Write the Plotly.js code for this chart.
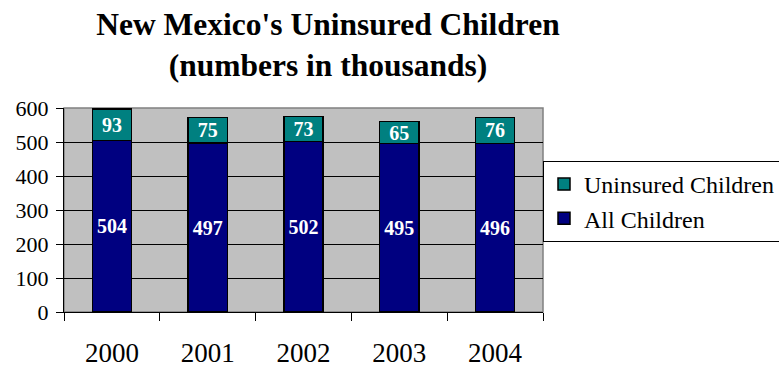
<!DOCTYPE html>
<html>
<head>
<meta charset="utf-8">
<script src="https://cdn.plot.ly/plotly-3.0.1.min.js"></script>
<style>html,body{margin:0;padding:0;background:#fff;}#chart{width:779px;height:369px;}</style>
</head>
<body>
<div id="chart"></div>
<script>
var years = ['2000', '2001', '2002', '2003', '2004'];
var allChildren = [504, 497, 502, 495, 496];
var uninsuredChildren = [93, 75, 73, 65, 76];
var yTicks = [0, 100, 200, 300, 400, 500, 600];

var serif = 'Liberation Serif, Times New Roman, serif';

var traces = [
  {
    type: 'bar', name: 'All Children', x: years, y: allChildren,
    text: allChildren.map(function (v) { return '<b>' + v + '</b>'; }),
    textposition: 'inside', insidetextanchor: 'middle', textangle: 0,
    constraintext: 'none',
    textfont: {family: serif, size: 20, color: '#ffffff'},
    marker: {color: '#000080', line: {color: '#000000', width: 1.5}},
    hoverinfo: 'none'
  },
  {
    type: 'bar', name: 'Uninsured Children', x: years, y: uninsuredChildren,
    text: uninsuredChildren.map(function (v) { return '<b>' + v + '</b>'; }),
    textposition: 'inside', insidetextanchor: 'middle', textangle: 0,
    constraintext: 'none',
    textfont: {family: serif, size: 20, color: '#ffffff'},
    marker: {color: '#008080', line: {color: '#000000', width: 1.5}},
    hoverinfo: 'none'
  }
];

var layout = {
  width: 779, height: 369,
  margin: {l: 64, r: 236, t: 108, b: 57, autoexpand: false},
  paper_bgcolor: '#ffffff', plot_bgcolor: '#C0C0C0',
  barmode: 'stack', bargap: 0.59,
  font: {family: serif, color: '#000000'},
  title: {
    text: "New Mexico's Uninsured Children<br>(numbers in thousands)",
    font: {family: serif, size: 31.5, weight: 'bold', color: '#000000'},
    xref: 'container', x: 328 / 779, xanchor: 'center',
    yref: 'container', y: 0.905, yanchor: 'top'
  },
  xaxis: {
    type: 'category', showgrid: false, zeroline: false,
    showline: true, linecolor: '#000000', linewidth: 1,
    ticks: 'outside', tickson: 'boundaries', ticklen: 8, tickcolor: '#000000', tickwidth: 1,
    tickfont: {family: serif, size: 27, color: '#000000'},
    ticklabelstandoff: 17
  },
  yaxis: {
    range: [0, 600], tickvals: yTicks, ticktext: yTicks.map(String),
    showgrid: true, gridcolor: '#000000', gridwidth: 1, zeroline: false,
    showline: true, linecolor: '#000000', linewidth: 1,
    ticks: 'outside', ticklen: 7, tickcolor: '#000000', tickwidth: 1,
    tickfont: {family: serif, size: 22, color: '#000000'},
    ticklabelstandoff: 3
  },
  shapes: [{
    type: 'rect', xref: 'paper', yref: 'paper', x0: 0, x1: 1, y0: 0, y1: 1,
    line: {color: '#808080', width: 1.5}, fillcolor: 'rgba(0,0,0,0)', layer: 'below'
  }],
  legend: {
    x: (543 - 64) / 479, xanchor: 'left', y: (312 - 161) / 204, yanchor: 'top',
    bgcolor: '#ffffff', bordercolor: '#000000', borderwidth: 1,
    font: {family: serif, size: 24, color: '#000000'},
    traceorder: 'reversed', itemwidth: 30
  },
  showlegend: true
};

Plotly.newPlot('chart', traces, layout, {displayModeBar: false, staticPlot: true});
</script>
</body>
</html>
